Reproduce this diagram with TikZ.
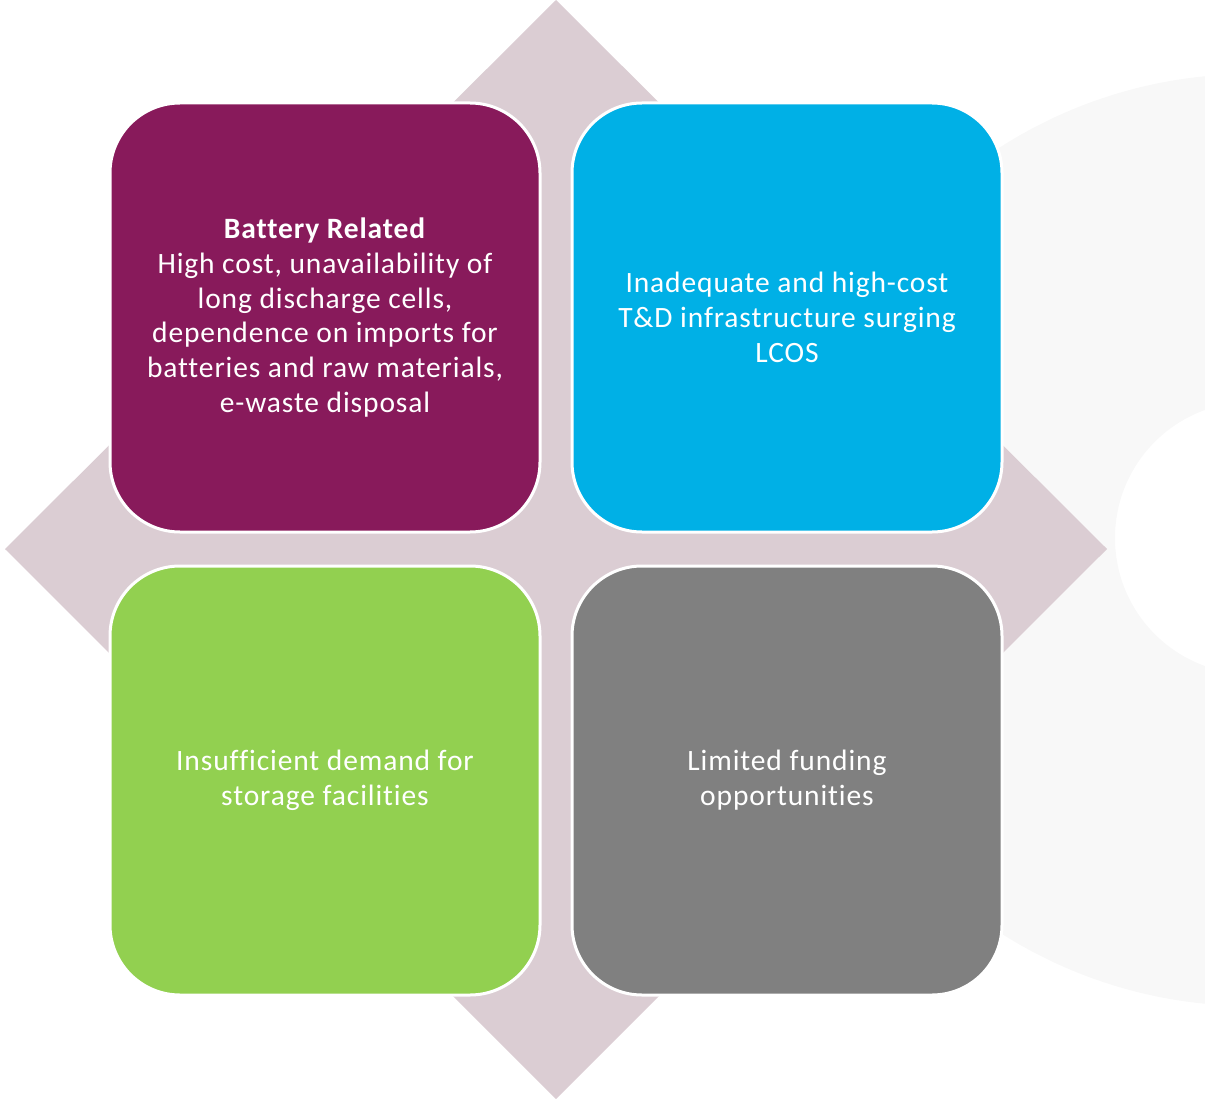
\documentclass[tikz,border=0pt]{standalone}
\usepackage{fontspec}
\setmainfont{Carlito}[LetterSpace=3, Ligatures=CommonOff]
\definecolor{ringgrey}{HTML}{F8F8F8}
\definecolor{diamondpink}{HTML}{DBCDD3}
\definecolor{plum}{HTML}{881A5B}
\definecolor{skyblue}{HTML}{00B0E6}
\definecolor{leafgreen}{HTML}{92D050}
\definecolor{midgrey}{HTML}{808080}
\tikzset{
    tile/.style={draw=white, line width=3pt, rounded corners=70pt,
        minimum width=430pt, minimum height=429pt, text=white,
        align=center, font=\fontsize{29.5}{34.8}\selectfont}
}
\begin{document}
\begin{tikzpicture}[x=1pt, y=-1pt]
    \useasboundingbox (0,0) rectangle (1205,1099);

    % faint ring on the right
    \begin{scope}
        \clip (0,0) rectangle (1205,1099);
        \fill[ringgrey, even odd rule] (1251,540) circle (466) (1251,538) circle (136);
    \end{scope}

    % diamond behind the tiles
    \fill[diamondpink] (556,0) -- (1107,549) -- (556,1099) -- (5,549) -- cycle;

    \node[tile, fill=plum] (battery) at (325,317.5)
        {\textbf{Battery Related}\\High cost, unavailability of\\long discharge cells,\\dependence on imports for\\batteries and raw materials,\\e-waste disposal};
    \node[tile, fill=skyblue] (grid) at (787,317.5)
        {Inadequate and high-cost\\T\&D infrastructure surging\\LCOS};
    \node[tile, fill=leafgreen] (demand) at (325,780.5)
        {Insufficient demand for\\storage facilities};
    \node[tile, fill=midgrey] (funding) at (787,780.5)
        {Limited funding\\opportunities};

\end{tikzpicture}
\end{document}
